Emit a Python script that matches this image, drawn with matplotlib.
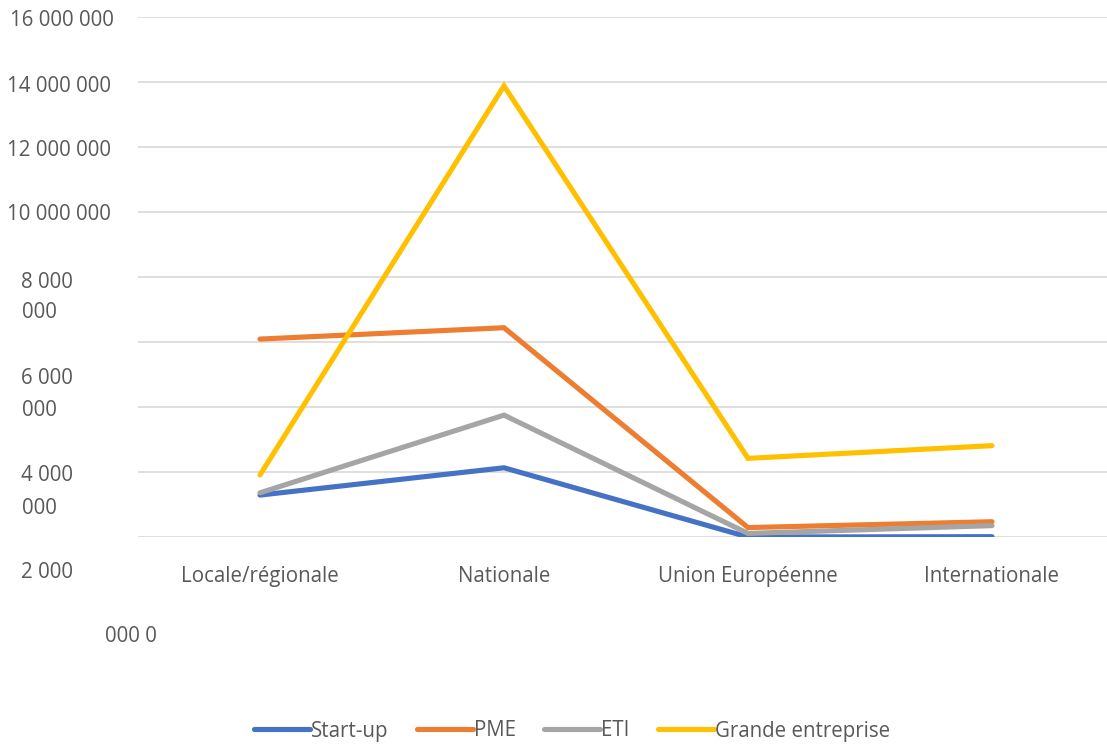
import matplotlib.pyplot as plt
import numpy as np

categories = ['Locale/régionale', 'Nationale', 'Union Européenne', 'Internationale']
startup = [1290000, 2130000, 0, 10000]
pme = [6090000, 6440000, 290000, 470000]
eti = [1360000, 3750000, 110000, 350000]
grande = [1910000, 13880000, 2420000, 2810000]
series_names = ['Start-up', 'PME', 'ETI', 'Grande entreprise']
colors = ['#4472C4', '#ED7D31', '#A5A5A5', '#FFC000']

# y labels as they appear in the source (wrapped / shifted)
ylabels = [('16 000 000', 10, 20), ('14 000 000', 7, 86), ('12 000 000', 7, 150),
           ('10 000 000', 7, 215), ('8 000', 21, 282), ('000', 22, 313),
           ('6 000', 21, 379), ('000', 22, 411), ('4 000', 21, 476),
           ('000', 22, 508), ('2 000', 21, 573), ('000 0', 105, 637)]

plt.rcParams['font.family'] = ['Open Sans', 'DejaVu Sans']
W, H = 1107, 749
fs = 14.8
fig = plt.figure(figsize=(W / 100, H / 100), dpi=100)
ax = fig.add_axes([138 / W, 1 - 537 / H, 976 / W, 520 / H])

x = np.arange(len(categories))
for vals, name, c in zip([startup, pme, eti, grande], series_names, colors):
    ax.plot(x, vals, color=c, lw=3.7, label=name, solid_capstyle='round',
            solid_joinstyle='miter', zorder=3)

ax.set_xlim(-0.5, 3.5)
ax.set_ylim(0, 16000000)
ax.set_yticks(np.arange(0, 16000001, 2000000))
ax.set_yticklabels([])
ax.tick_params(axis='y', length=0)
ax.grid(axis='y', color='#D9D9D9', lw=1.2)
ax.set_axisbelow(True)
ax.set_xticks(x)
ax.set_xticklabels(categories, fontsize=fs, color='#595959')
ax.tick_params(axis='x', length=0, pad=21)
for s in ax.spines.values():
    s.set_visible(False)

for txt, px, py in ylabels:
    fig.text(px / W, 1 - py / H, txt, fontsize=fs, color='#595959',
             ha='left', va='center')

leg = fig.legend(loc='center', bbox_to_anchor=(572 / W, 1 - 731 / H), ncol=4,
                 frameon=False, fontsize=fs, handlelength=2.7,
                 columnspacing=1.4, handletextpad=0.05)
for t in leg.get_texts():
    t.set_color('#595959')

fig.savefig('out.png', dpi=100)
